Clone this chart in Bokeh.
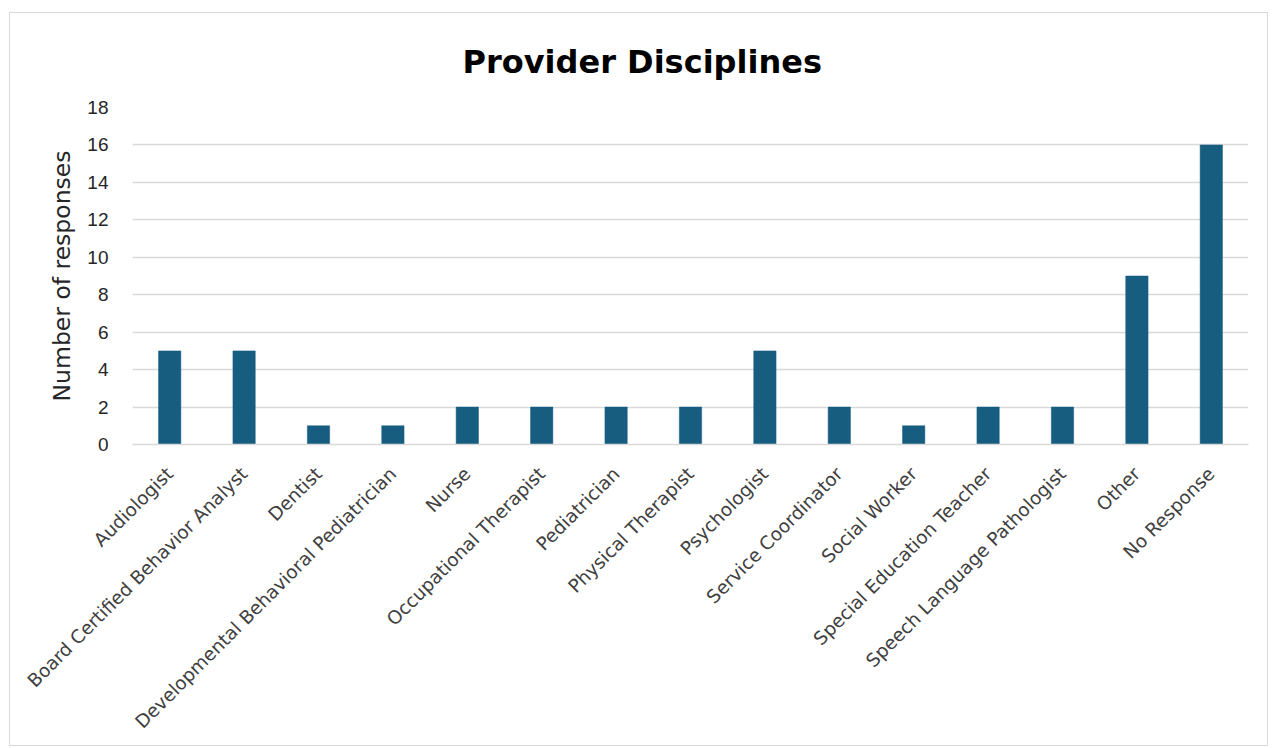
from math import pi
from bokeh.plotting import figure
from bokeh.models import ColumnDataSource, Title, FactorRange, Range1d, FixedTicker
from bokeh.embed import file_html
from bokeh.resources import INLINE

categories = ["Audiologist", "Board Certified Behavior Analyst", "Dentist",
              "Developmental Behavioral Pediatrician", "Nurse", "Occupational Therapist",
              "Pediatrician", "Physical Therapist", "Psychologist", "Service Coordinator",
              "Social Worker", "Special Education Teacher", "Speech Language Pathologist",
              "Other", "No Response"]
responses = [5, 5, 1, 1, 2, 2, 2, 2, 5, 2, 1, 2, 2, 9, 16]
y_ticks = [0, 2, 4, 6, 8, 10, 12, 14, 16, 18]
title_text = "Provider Disciplines"

FONT = "Liberation Sans"
LFONT = "DejaVu Sans"
BAR = "#175d80"
GRID = "#d9d9d9"

src = ColumnDataSource(dict(cat=categories, val=responses))

p = figure(width=1259, height=734, output_backend="svg", toolbar_location=None,
           x_range=FactorRange(factors=categories, range_padding=0),
           y_range=Range1d(0, 18),
           min_border_left=122, min_border_right=21, min_border_top=92, min_border_bottom=303)
p.styles = {"border": "1px solid #d9d9d9", "margin-left": "9px", "margin-top": "12px"}
p.outline_line_color = None
p.background_fill_color = "white"
p.border_fill_color = "white"

p.vbar(x="cat", top="val", width=0.3, source=src, fill_color=BAR, line_color=BAR, line_width=0.5)

t = Title(text=title_text, align="left", offset=330, standoff=54,
          text_font=LFONT, text_font_size="32px", text_font_style="bold", text_color="black")
p.add_layout(t, "above")

p.yaxis.ticker = FixedTicker(ticks=y_ticks)
p.yaxis.axis_line_color = None
p.yaxis.major_tick_line_color = None
p.yaxis.minor_tick_line_color = None
p.yaxis.major_label_standoff = 18
p.yaxis.major_label_text_font = FONT
p.yaxis.major_label_text_font_size = "19px"
p.yaxis.major_label_text_color = "#262626"
p.yaxis.axis_label = "Number of responses"
p.yaxis.axis_label_text_font = LFONT
p.yaxis.axis_label_text_font_size = "23.5px"
p.yaxis.axis_label_text_font_style = "normal"
p.yaxis.axis_label_text_color = "#262626"
p.yaxis.axis_label_standoff = 8

p.xaxis.axis_line_color = GRID
p.xaxis.axis_line_width = 1.5
p.xaxis.major_tick_line_color = None
p.xaxis.minor_tick_line_color = None
p.xaxis.major_label_orientation = pi / 4
p.xaxis.major_label_standoff = 20
p.xaxis.major_label_text_font = LFONT
p.xaxis.major_label_text_font_size = "18.5px"
p.xaxis.major_label_text_color = "#404040"

p.xgrid.grid_line_color = None
p.ygrid.grid_line_color = GRID
p.ygrid.grid_line_width = 1.5

open("out.html", "w").write(file_html(p, INLINE))
